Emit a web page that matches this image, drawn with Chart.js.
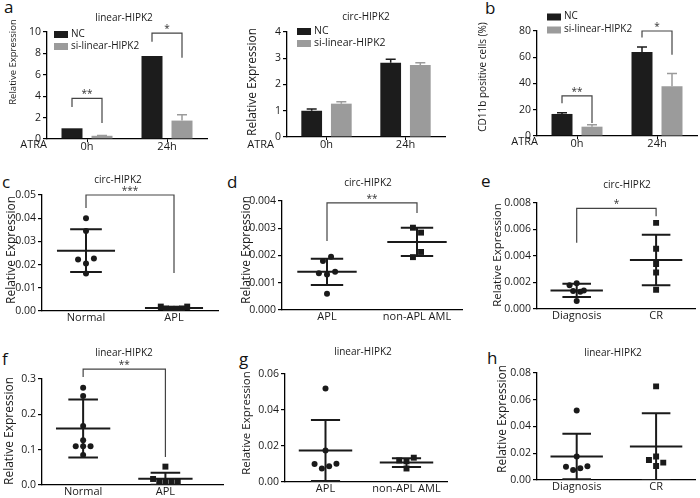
<!DOCTYPE html>
<html>
<head>
<meta charset="utf-8">
<script src="https://cdn.jsdelivr.net/npm/chart.js@4.4.0/dist/chart.umd.min.js"></script>
<style>
  body { margin: 0; background: #fff; }
  #fig { position: relative; width: 700px; height: 498px; overflow: hidden; font-family: 'Open Sans', sans-serif; background: #fff; }
  #fig canvas { position: absolute; }
  .tag { position: absolute; font-size: 17px; line-height: 17px; color: #111; }
</style>
</head>
<body>
<div id="fig">
  <div class="tag" style="left:4px;top:-2px">a</div>
  <div class="tag" style="left:485px;top:-1px">b</div>
  <div class="tag" style="left:2px;top:173px">c</div>
  <div class="tag" style="left:227px;top:173px">d</div>
  <div class="tag" style="left:481px;top:172px">e</div>
  <div class="tag" style="left:2px;top:350px">f</div>
  <div class="tag" style="left:239px;top:350px">g</div>
  <div class="tag" style="left:487px;top:349px">h</div>
</div>
<script>
// ---- panels a, b: knockdown bars, ATRA 0h / 24h ----
const timeLabels = ['0h', '24h'];
const seriesNames = ['NC', 'si-linear-HIPK2'];

const linearNC = [1.0, 7.75];
const linearNCErr = [0, 0];
const linearSi = [0.3, 1.72];
const linearSiErr = [0.03, 0.55];

const circNC = [1.0, 2.83];
const circNCErr = [0.07, 0.13];
const circSi = [1.27, 2.74];
const circSiErr = [0.07, 0.09];

const cd11bNC = [16.8, 64];
const cd11bNCErr = [1.0, 3.8];
const cd11bSi = [7.1, 38];
const cd11bSiErr = [1.5, 9.7];

const linearSig = [{cat: 0, top: 3.8, left: 3.0, right: 1.5, text: '**'}, {cat: 1, top: 9.9, left: 9.1, right: 7.6, text: '*'}];
const cd11bSig = [{cat: 0, top: 30.5, left: 25, right: 10, text: '**'}, {cat: 1, top: 80, left: 75, right: 62, text: '*'}];

// ---- panels c-h: patient samples, mean +/- SD ----
const cNames = ['Normal', 'APL'];
const cNormal = [0.040, 0.0345, 0.0222, 0.0205, 0.0226, 0.0162];
const cAPL = [0.0019, 0.0011, 0.0010, 0.0010, 0.0011, 0.0019];
const cMeans = [0.026, 0.0013];
const cSDs = [0.0092, 0.0004];
const cSig = {top: 0.05, left: 0.0444, right: 0.0164, text: '***'};

const dNames = ['APL', 'non-APL AML'];
const dAPL = [0.0018, 0.00195, 0.00135, 0.0013, 0.0014, 0.0006];
const dOther = [0.00302, 0.00284, 0.00194, 0.00213];
const dMeans = [0.0014, 0.0025];
const dSDs = [0.00048, 0.00052];
const dSig = {top: 0.00393, left: 0.00253, right: 0.00356, text: '**'};

const eNames = ['Diagnosis', 'CR'];
const eDiag = [0.0018, 0.00195, 0.00135, 0.0013, 0.0014, 0.0006];
const eCR = [0.0065, 0.00455, 0.0034, 0.00275, 0.00145];
const eMeans = [0.0014, 0.0037];
const eSDs = [0.0005, 0.0019];
const eSig = {top: 0.0076, left: 0.0050, right: 0.0070, text: '*'};

const fNames = ['Normal', 'APL'];
const fNormal = [0.275, 0.252, 0.167, 0.127, 0.11, 0.11, 0.11, 0.085];
const fAPL = [0.052, 0.017, 0.009, 0.010, 0.010, 0.009];
const fMeans = [0.16, 0.018];
const fSDs = [0.082, 0.017];
const fSig = {top: 0.328, left: 0.306, right: 0.079, text: '**'};

const gNames = ['APL', 'non-APL AML'];
const gAPL = [0.052, 0.0175, 0.0100, 0.0075, 0.0088, 0.0102];
const gOther = [0.0120, 0.0115, 0.0135, 0.0075];
const gMeans = [0.0175, 0.0108];
const gSDs = [0.017, 0.0024];

const hNames = ['Diagnosis', 'CR'];
const hDiag = [0.052, 0.0175, 0.0100, 0.0075, 0.0088, 0.0102];
const hCR = [0.070, 0.015, 0.0175, 0.0105, 0.013];
const hMeans = [0.0175, 0.025];
const hSDs = [0.017, 0.025];

const FONT = "'Open Sans', sans-serif";
const INK = '#1a1a1a';
const NC_COLOR = '#1c1c1c';
const SI_COLOR = '#9b9b9b';

// extra drawing: error bars on bars, brackets, titles, legend, ATRA label
const deco = {
  id: 'deco',
  afterDraw(chart, args, o) {
    const {ctx} = chart;
    const x = chart.scales.x, y = chart.scales.y;
    ctx.save();
    chart.data.datasets.forEach((ds, i) => {
      if (!ds.errors) return;
      chart.getDatasetMeta(i).data.forEach((bar, k) => {
        const e = ds.errors[k];
        if (!e) return;
        const yTop = y.getPixelForValue(ds.data[k] + e);
        ctx.strokeStyle = ds.backgroundColor;
        ctx.lineWidth = 1.5;
        ctx.beginPath();
        ctx.moveTo(bar.x, bar.y);
        ctx.lineTo(bar.x, yTop);
        ctx.moveTo(bar.x - 5, yTop);
        ctx.lineTo(bar.x + 5, yTop);
        ctx.stroke();
      });
    });
    (o.brackets || []).forEach(b => {
      const x1 = b.cat == null ? x.getPixelForValue(1) : chart.getDatasetMeta(0).data[b.cat].x;
      const x2 = b.cat == null ? x.getPixelForValue(2) : chart.getDatasetMeta(1).data[b.cat].x;
      const yt = y.getPixelForValue(b.top);
      ctx.strokeStyle = '#444';
      ctx.lineWidth = 1.2;
      ctx.beginPath();
      ctx.moveTo(x1, y.getPixelForValue(b.left));
      ctx.lineTo(x1, yt);
      ctx.lineTo(x2, yt);
      ctx.lineTo(x2, y.getPixelForValue(b.right));
      ctx.stroke();
      ctx.fillStyle = '#333';
      ctx.font = '10px ' + FONT;
      ctx.textAlign = 'center';
      ctx.textBaseline = 'alphabetic';
      ctx.fillText(b.text, (x1 + x2) / 2, yt - 1);
    });
    ctx.fillStyle = INK;
    if (o.title) {
      ctx.font = o.title.size + 'px ' + FONT;
      ctx.textAlign = 'center';
      ctx.textBaseline = 'middle';
      ctx.fillText(o.title.text, o.title.x, o.title.y);
    }
    if (o.yTitle) {
      ctx.save();
      ctx.translate(o.yTitle.x, o.yTitle.y);
      ctx.rotate(-Math.PI / 2);
      ctx.font = o.yTitle.size + 'px ' + FONT;
      ctx.textAlign = 'center';
      ctx.textBaseline = 'middle';
      ctx.fillText(o.yTitle.text, 0, 0);
      ctx.restore();
    }
    if (o.atra) {
      ctx.font = '11px ' + FONT;
      ctx.textAlign = 'right';
      ctx.textBaseline = 'middle';
      ctx.fillText('ATRA', o.atra.x, o.atra.y);
    }
    if (o.legend) {
      const L = o.legend;
      chart.data.datasets.forEach((ds, i) => {
        const yy = L.y + i * L.dy;
        ctx.fillStyle = ds.backgroundColor;
        ctx.fillRect(L.x, yy - 3, 14, 7);
        ctx.fillStyle = INK;
        ctx.font = L.size + 'px ' + FONT;
        ctx.textAlign = 'left';
        ctx.textBaseline = 'middle';
        ctx.fillText(ds.label, L.x + 17, yy);
      });
    }
    ctx.restore();
  }
};

function makeCanvas(id, box) {
  const c = document.createElement('canvas');
  c.id = id;
  c.width = box[2];
  c.height = box[3];
  c.style.left = box[0] + 'px';
  c.style.top = box[1] + 'px';
  document.getElementById('fig').appendChild(c);
  return c;
}

function baseScales(box, area, yMax, yStep, yDec) {
  return {
    y: {
      min: 0, max: yMax,
      ticks: {stepSize: yStep, color: INK, font: {family: FONT, size: 10.5}, padding: 2,
              callback: v => v.toFixed(yDec)},
      grid: {drawOnChartArea: false, tickLength: 4, color: '#000', lineWidth: 1.2},
      border: {color: '#000', width: 1.3},
      afterFit: s => { s.width = area[0]; }
    },
    x: {
      ticks: {color: INK, font: {family: FONT, size: 11}, padding: 0, maxRotation: 0, autoSkip: false},
      grid: {drawOnChartArea: false, drawTicks: false},
      border: {color: '#000', width: 1.3},
      afterFit: s => { s.height = box[3] - area[3]; }
    }
  };
}

function barPanel(id, box, area, opt) {
  const sc = baseScales(box, area, opt.yMax, opt.yStep, 0);
  sc.x.offset = true;
  sc.x.grid = {drawOnChartArea: false, offset: false, tickLength: 3, color: '#000'};
  sc.x.ticks.padding = -2;
  new Chart(makeCanvas(id, box), {
    type: 'bar',
    data: {
      labels: timeLabels,
      datasets: [
        {label: seriesNames[0], data: opt.nc, errors: opt.ncErr, backgroundColor: NC_COLOR, barPercentage: 0.7, categoryPercentage: 0.75},
        {label: seriesNames[1], data: opt.si, errors: opt.siErr, backgroundColor: SI_COLOR, barPercentage: 0.7, categoryPercentage: 0.75}
      ]
    },
    options: {
      responsive: false, animation: false, events: [],
      layout: {padding: {left: 0, top: area[1], right: box[2] - area[2], bottom: 0}},
      plugins: {legend: {display: false}, tooltip: {enabled: false}, deco: opt.deco},
      scales: sc
    },
    plugins: [deco]
  });
}

// fan out points that would sit on top of each other
function spread(values, center, thr) {
  const groups = [];
  values.forEach((v, i) => {
    const g = groups.find(gr => gr.some(j => Math.abs(values[j] - v) < thr));
    if (g) g.push(i); else groups.push([i]);
  });
  const xs = [];
  groups.forEach(gr => {
    const step = gr.length > 1 ? Math.min(0.09, 0.3 / (gr.length - 1)) : 0;
    gr.forEach((idx, k) => { xs[idx] = center + (k - (gr.length - 1) / 2) * step; });
  });
  return values.map((v, i) => ({x: xs[i], y: v}));
}

function dotPanel(id, box, area, opt) {
  const sc = baseScales(box, area, opt.yMax, opt.yStep, opt.yDec);
  sc.x.type = 'linear';
  sc.x.min = 0.5;
  sc.x.max = opt.xMax || 2.5;
  sc.x.afterBuildTicks = s => { s.ticks = [{value: 1}, {value: 2}]; };
  sc.x.ticks.callback = v => opt.names[v - 1];
  const thr = opt.yMax * 0.05;
  const datasets = [];
  opt.groups.forEach((vals, g) => {
    const c = g + 1, m = opt.means[g], s = opt.sds[g];
    datasets.push({
      data: [
        {x: c - 0.33, y: m}, {x: c + 0.33, y: m}, {x: c, y: null},
        {x: c - 0.18, y: m + s}, {x: c + 0.18, y: m + s}, {x: c, y: null},
        {x: c - 0.18, y: m - s}, {x: c + 0.18, y: m - s}, {x: c, y: null},
        {x: c, y: m - s}, {x: c, y: m + s}
      ],
      showLine: true, pointRadius: 0, borderColor: INK, borderWidth: 2, spanGaps: false
    });
    datasets.push({
      data: spread(vals, c, thr),
      pointStyle: g ? 'rect' : 'circle', pointRadius: g ? 4.2 : 3,
      backgroundColor: INK, borderWidth: 0
    });
  });
  new Chart(makeCanvas(id, box), {
    type: 'scatter',
    data: {datasets},
    options: {
      responsive: false, animation: false, events: [],
      layout: {padding: {left: 0, top: area[1], right: box[2] - area[2], bottom: 0}},
      plugins: {legend: {display: false}, tooltip: {enabled: false}, deco: opt.deco},
      scales: sc
    },
    plugins: [deco]
  });
}

barPanel('a1', [0, 0, 235, 165], [47, 32, 207, 139], {
  nc: linearNC, ncErr: linearNCErr, si: linearSi, siErr: linearSiErr, yMax: 10, yStep: 2,
  deco: {
    title: {text: 'linear-HIPK2', x: 124, y: 18, size: 10},
    yTitle: {text: 'Relative Expression', x: 13, y: 62, size: 9.5},
    legend: {x: 54, y: 34, dy: 12, size: 10},
    atra: {x: 47, y: 145},
    brackets: linearSig
  }
});

barPanel('a2', [240, 0, 230, 165], [47, 32, 205, 137], {
  nc: circNC, ncErr: circNCErr, si: circSi, siErr: circSiErr, yMax: 4, yStep: 1,
  deco: {
    title: {text: 'circ-HIPK2', x: 126, y: 17, size: 10},
    yTitle: {text: 'Relative Expression', x: 13, y: 82, size: 12},
    legend: {x: 57, y: 31, dy: 12, size: 10.5},
    atra: {x: 34, y: 145}
  }
});

barPanel('b', [470, 0, 230, 165], [67, 31, 227, 136], {
  nc: cd11bNC, ncErr: cd11bNCErr, si: cd11bSi, siErr: cd11bSiErr, yMax: 80, yStep: 20,
  deco: {
    yTitle: {text: 'CD11b positive cells (%)', x: 13, y: 77, size: 10},
    legend: {x: 77, y: 16.5, dy: 13, size: 10},
    atra: {x: 68, y: 142},
    brackets: cd11bSig
  }
});

dotPanel('c', [0, 170, 235, 160], [42, 25, 218, 141], {
  names: cNames, groups: [cNormal, cAPL], means: cMeans, sds: cSDs, yMax: 0.05, yStep: 0.01, yDec: 2,
  deco: {
    title: {text: 'circ-HIPK2', x: 118, y: 10, size: 10},
    yTitle: {text: 'Relative Expression', x: 12, y: 80, size: 12},
    brackets: [cSig]
  }
});

dotPanel('d', [240, 170, 230, 160], [42, 31, 222, 140], {
  names: dNames, groups: [dAPL, dOther], means: dMeans, sds: dSDs, yMax: 0.004, yStep: 0.001, yDec: 3,
  deco: {
    title: {text: 'circ-HIPK2', x: 128, y: 13, size: 10},
    yTitle: {text: 'Relative Expression', x: 7, y: 80, size: 12},
    brackets: [dSig]
  }
});

dotPanel('e', [470, 170, 230, 160], [67, 33, 227, 139], {
  names: eNames, groups: [eDiag, eCR], means: eMeans, sds: eSDs, yMax: 0.008, yStep: 0.002, yDec: 3,
  deco: {
    title: {text: 'circ-HIPK2', x: 157, y: 15, size: 10},
    yTitle: {text: 'Relative Expression', x: 28, y: 85, size: 11.5},
    brackets: [eSig]
  }
});

dotPanel('f', [0, 330, 235, 168], [42, 49, 223, 155], {
  names: fNames, groups: [fNormal, fAPL], means: fMeans, sds: fSDs, yMax: 0.3, yStep: 0.1, yDec: 1, xMax: 2.7,
  deco: {
    title: {text: 'linear-HIPK2', x: 124, y: 23, size: 10},
    yTitle: {text: 'Relative Expression', x: 10, y: 101, size: 12},
    brackets: [fSig]
  }
});

dotPanel('g', [240, 330, 230, 168], [45, 44, 207, 152], {
  names: gNames, groups: [gAPL, gOther], means: gMeans, sds: gSDs, yMax: 0.06, yStep: 0.02, yDec: 2,
  deco: {
    title: {text: 'linear-HIPK2', x: 123, y: 22, size: 10},
    yTitle: {text: 'Relative Expression', x: 7, y: 93, size: 11.5}
  }
});

dotPanel('h', [470, 330, 230, 168], [67, 43, 227, 150], {
  names: hNames, groups: [hDiag, hCR], means: hMeans, sds: hSDs, yMax: 0.08, yStep: 0.02, yDec: 2,
  deco: {
    title: {text: 'linear-HIPK2', x: 143, y: 23, size: 10},
    yTitle: {text: 'Relative Expression', x: 33, y: 89, size: 12}
  }
});
</script>
</body>
</html>
